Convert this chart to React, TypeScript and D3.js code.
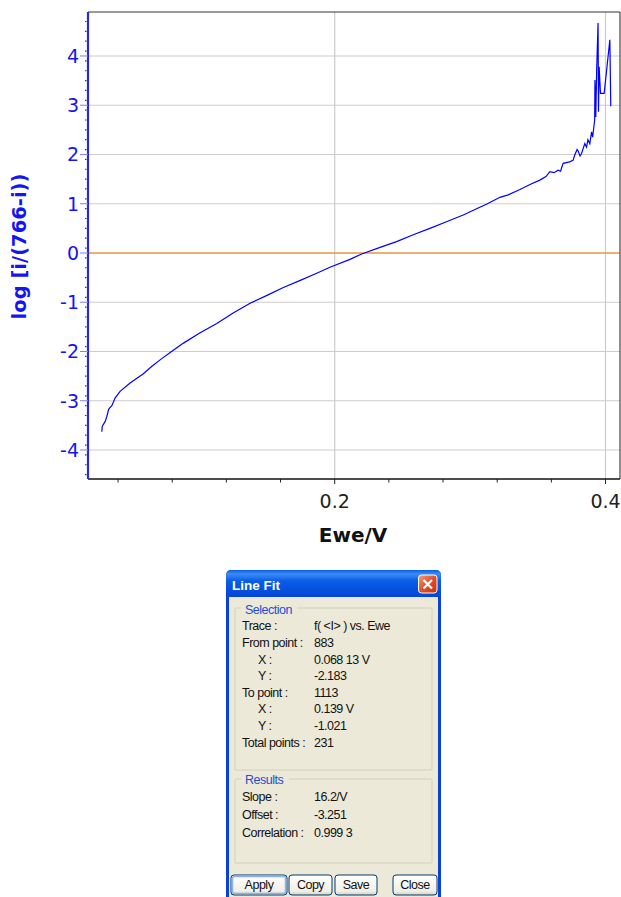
import React from "react";
import * as d3 from "d3";

// ---- Data ----
const ewe: number[] = [
  0.0280, 0.0283, 0.0305, 0.0317, 0.0330, 0.0337, 0.0354, 0.0379, 0.0415, 0.0489,
  0.0587, 0.0650, 0.0720, 0.0790, 0.0883, 0.1000, 0.1129, 0.1250, 0.1375, 0.1500,
  0.1621, 0.1750, 0.1867, 0.1965, 0.2113, 0.2199, 0.2330, 0.2457, 0.2580, 0.2703,
  0.2830, 0.2949, 0.3072, 0.3121, 0.3220, 0.3281, 0.3368, 0.3450, 0.3515, 0.3560,
  0.3589, 0.3620, 0.3650, 0.3668, 0.3687, 0.3736, 0.3760, 0.3773, 0.3790, 0.3798,
  0.3812, 0.3823, 0.3847, 0.3860, 0.3870, 0.3884, 0.3897, 0.3905, 0.3920, 0.3922,
  0.3928, 0.3935, 0.3945, 0.3948, 0.3953, 0.3963, 0.3990, 0.4032, 0.4039,
];
const logRatio: number[] = [
  -3.63, -3.52, -3.42, -3.32, -3.18, -3.15, -3.10, -2.94, -2.81, -2.64,
  -2.45, -2.30, -2.15, -2.01, -1.83, -1.63, -1.43, -1.22, -1.02, -0.86,
  -0.70, -0.55, -0.41, -0.29, -0.13, -0.02, 0.11, 0.23, 0.37, 0.50,
  0.64, 0.77, 0.93, 0.99, 1.13, 1.18, 1.29, 1.40, 1.48, 1.55,
  1.65, 1.63, 1.68, 1.66, 1.82, 1.85, 1.88, 1.99, 2.10, 2.07,
  1.97, 2.02, 2.22, 2.15, 2.30, 2.22, 2.46, 2.35, 2.70, 3.51,
  2.76, 3.75, 4.67, 2.87, 3.78, 3.24, 3.24, 4.33, 2.98,
];
const yTicks: number[] = [-4, -3, -2, -1, 0, 1, 2, 3, 4];
const xMajorTicks: number[] = [0.2, 0.4];
const xMinorTicks: number[] = [0.04, 0.08, 0.12, 0.16, 0.24, 0.28, 0.32, 0.36];
const yLabel = "log [i/(766-i))";
const xLabel = "Ewe/V";

const dialogTitle = "Line Fit";
const selectionLabels: string[] = ["Trace :", "From point :", "X :", "Y :", "To point :", "X :", "Y :", "Total points :"];
const selectionIndent: boolean[] = [false, false, true, true, false, true, true, false];
const selectionValues: string[] = ["f( <I> ) vs. Ewe", "883", "0.068 13 V", "-2.183", "1113", "0.139 V", "-1.021", "231"];
const resultLabels: string[] = ["Slope :", "Offset :", "Correlation :"];
const resultValues: string[] = ["16.2/V", "-3.251", "0.999 3"];
const buttonLabels: string[] = ["Apply", "Copy", "Save", "Close"];

export default function App() {
  const left = 88, right = 620, top = 12, bottom = 479;
  const x = d3.scaleLinear().domain([0.0178, 0.4107]).range([left, right]);
  const y = d3.scaleLinear().domain([-4.589, 4.893]).range([bottom, top]);
  const pts = ewe.map((e, i) => [e, logRatio[i]] as [number, number]);
  const line = d3.line<[number, number]>().x((d) => x(d[0])).y((d) => y(d[1]));
  const yMinor = d3.range(-45, 49, 2).map((v) => v / 10).filter((v) => Math.abs(v - Math.round(v)) > 1e-6);

  const blue = "#1414f5";
  const font = "DejaVu Sans, Verdana, sans-serif";
  const dlgFont = "Liberation Sans, Arial, sans-serif";
  const dfs = 12.5;
  const dls = -0.5;

  // dialog geometry
  const dL = 226, dR = 441, dT = 570;
  const rowY0 = 626, rowStep = 16.6;
  const buttons = [
    [231, 287],
    [289, 332],
    [335, 377],
    [393, 437],
  ];

  return (
    <svg width={621} height={897} style={{ position: "absolute", left: 0, top: 0, background: "#fff" }} fontFamily={font}>
      <defs>
        <linearGradient id="tb" x1="0" y1="0" x2="0" y2="1">
          <stop offset="0" stopColor="#0a5fe8" />
          <stop offset="0.15" stopColor="#3d8cf7" />
          <stop offset="0.4" stopColor="#0a5de6" />
          <stop offset="1" stopColor="#0346d8" />
        </linearGradient>
        <linearGradient id="btn" x1="0" y1="0" x2="0" y2="1">
          <stop offset="0" stopColor="#ffffff" />
          <stop offset="0.8" stopColor="#f0efe8" />
          <stop offset="1" stopColor="#d6d0c0" />
        </linearGradient>
        <linearGradient id="cls" x1="0" y1="0" x2="1" y2="1">
          <stop offset="0" stopColor="#f0a080" />
          <stop offset="0.5" stopColor="#e0502a" />
          <stop offset="1" stopColor="#c83010" />
        </linearGradient>
        <clipPath id="plot">
          <rect x={left} y={top} width={right - left} height={bottom - top} />
        </clipPath>
      </defs>

      {/* gridlines */}
      {yTicks.filter((t) => t !== 0).map((t) => (
        <line key={"gy" + t} x1={left} x2={right} y1={y(t)} y2={y(t)} stroke="#cccccc" strokeWidth={1.2} />
      ))}
      {xMajorTicks.map((t) => (
        <line key={"gx" + t} x1={x(t)} x2={x(t)} y1={top} y2={bottom} stroke="#cccccc" strokeWidth={1.2} />
      ))}
      <line x1={left} x2={right} y1={y(0)} y2={y(0)} stroke="#e8944a" strokeWidth={1.3} />

      {/* frame */}
      <line x1={left} x2={right} y1={top} y2={top} stroke="#333" strokeWidth={1.2} />
      <line x1={right} x2={right} y1={top} y2={bottom} stroke="#444" strokeWidth={1.2} />
      <line x1={left} x2={right} y1={bottom} y2={bottom} stroke="#111" strokeWidth={1.5} />

      {/* curve */}
      <path d={line(pts) || ""} fill="none" stroke="#0000ff" strokeWidth={1.2} clipPath="url(#plot)" />

      {/* y axis */}
      <line x1={left} x2={left} y1={top} y2={bottom} stroke="#2a2ad0" strokeWidth={2.2} />
      {yMinor.map((t) => (
        <line key={"ym" + t} x1={left - 3} x2={left - 1.5} y1={y(t)} y2={y(t)} stroke="#2a2ad0" strokeWidth={1.2} />
      ))}
      {yTicks.map((t) => (
        <g key={"yt" + t}>
          <line x1={left - 8} x2={left} y1={y(t)} y2={y(t)} stroke="#8080e8" strokeWidth={1} />
          <text x={left - 9} y={y(t)} dy="0.36em" textAnchor="end" fontSize={19} fill={blue}>
            {t === 0 ? "0" : t < 0 ? "-" + Math.abs(t) : String(t)}
          </text>
        </g>
      ))}
      <text transform={`translate(26,${246.5}) rotate(-90)`} textAnchor="middle" fontSize={19.5} fontWeight="bold" fill={blue}>
        {yLabel}
      </text>

      {/* x axis */}
      {xMinorTicks.map((t) => (
        <line key={"xm" + t} x1={x(t)} x2={x(t)} y1={bottom} y2={bottom + 3.5} stroke="#222" strokeWidth={1} />
      ))}
      {xMajorTicks.map((t) => (
        <g key={"xt" + t}>
          <line x1={x(t)} x2={x(t)} y1={bottom} y2={bottom + 5} stroke="#222" strokeWidth={1} />
          <text x={x(t)} y={508} textAnchor="middle" fontSize={19} fill="#222">
            {d3.format(".1f")(t)}
          </text>
        </g>
      ))}
      <text x={353} y={542} textAnchor="middle" fontSize={20} fontWeight="bold" fill="#111">
        {xLabel}
      </text>

      {/* dialog */}
      <g fontFamily={dlgFont}>
        <rect x={dL} y={dT} width={dR - dL} height={897 - dT + 4} rx={5} fill="#0842d6" />
        <rect x={dL} y={dT} width={dR - dL} height={27} rx={5} fill="url(#tb)" />
        <rect x={dL + 3} y={dT + 27} width={dR - dL - 6} height={897 - dT} fill="#ece9d8" />
        <text x={232} y={590} fill="#fff" fontSize={13.5} fontWeight="bold">
          {dialogTitle}
        </text>
        <rect x={418.5} y={575} width={18.5} height={18} rx={3} fill="url(#cls)" stroke="#fff" strokeWidth={1} />
        <path d="M423.5,580 L432,588.5 M432,580 L423.5,588.5" stroke="#fff" strokeWidth={2.2} />

        {/* selection group */}
        <path d={`M241,608 L236,608 Q235,608 235,609 L235,769 Q235,770 236,770 L431,770 Q432,770 432,769 L432,609 Q432,608 431,608 L297,608`} fill="none" stroke="#d0d0bf" strokeWidth={1} />
        <text x={245} y={613.5} fontSize={dfs} letterSpacing={dls} fill="#1c4fd6">Selection</text>
        {selectionLabels.map((s, i) => (
          <g key={"sl" + i}>
            <text x={selectionIndent[i] ? 258 : 242} y={rowY0 + i * rowStep} dy="0.35em" fontSize={dfs} fill="#111" letterSpacing={dls}>
              {s}
            </text>
            <text x={314} y={rowY0 + i * rowStep} dy="0.35em" fontSize={dfs} fill="#111" letterSpacing={dls}>
              {selectionValues[i]}
            </text>
          </g>
        ))}

        {/* results group */}
        <path d={`M241,779 L236,779 Q235,779 235,780 L235,862 Q235,863 236,863 L431,863 Q432,863 432,862 L432,780 Q432,779 431,779 L289,779`} fill="none" stroke="#d0d0bf" strokeWidth={1} />
        <text x={245} y={783.5} fontSize={dfs} letterSpacing={dls} fill="#1c4fd6">Results</text>
        {resultLabels.map((s, i) => (
          <g key={"rl" + i}>
            <text x={242} y={797 + i * 18} dy="0.35em" fontSize={dfs} fill="#111" letterSpacing={dls}>
              {s}
            </text>
            <text x={314} y={797 + i * 18} dy="0.35em" fontSize={dfs} fill="#111" letterSpacing={dls}>
              {resultValues[i]}
            </text>
          </g>
        ))}

        {/* buttons */}
        {buttonLabels.map((b, i) => (
          <g key={"b" + i}>
            <rect x={buttons[i][0]} y={875} width={buttons[i][1] - buttons[i][0]} height={20} rx={3} fill="url(#btn)" stroke="#003c74" strokeWidth={1} />
            {i === 0 && (
              <rect x={buttons[i][0] + 1.5} y={876.5} width={buttons[i][1] - buttons[i][0] - 3} height={17} rx={2} fill="none" stroke="#8db2ef" strokeWidth={1.5} />
            )}
            <text x={(buttons[i][0] + buttons[i][1]) / 2} y={885} dy="0.35em" textAnchor="middle" fontSize={dfs} fill="#111" letterSpacing={dls}>
              {b}
            </text>
          </g>
        ))}
      </g>
    </svg>
  );
}
